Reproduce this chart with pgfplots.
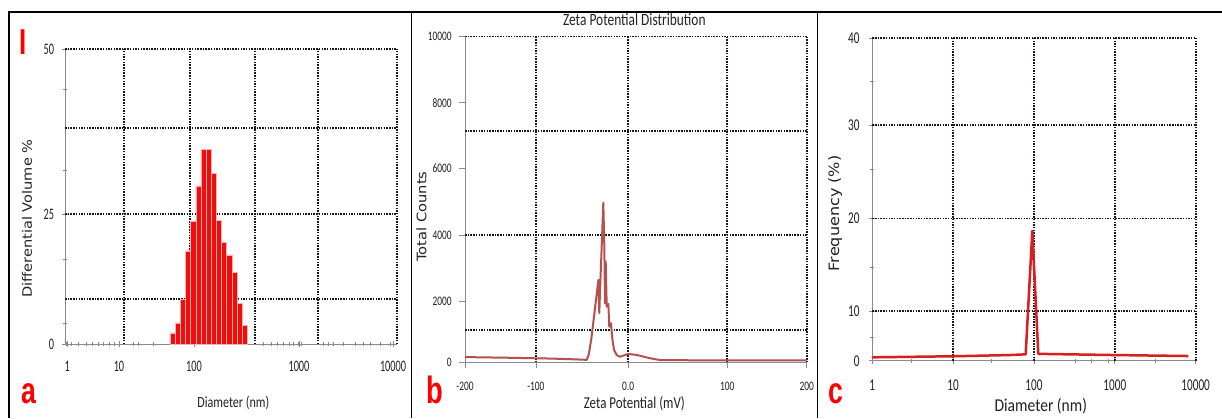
\documentclass[border=0pt]{standalone}
\usepackage{pgfplots}
\pgfplotsset{compat=1.18}
\usepackage{fontspec}
\setmainfont{Carlito}
\newfontfamily\tickA[FakeStretch=0.64]{Carlito}
\newfontfamily\tickB[FakeStretch=0.72]{Carlito}
\newfontfamily\tickC[FakeStretch=0.68]{Carlito}
\newfontfamily\labfont[FakeStretch=0.78]{Carlito}
\newfontfamily\labfontc[FakeStretch=0.86]{Carlito}
\newfontfamily\ylabfont[FakeStretch=1.12]{DejaVu Sans}
\newfontfamily\letterfont[FakeStretch=0.72]{Liberation Sans}

\definecolor{griddot}{HTML}{141826}
\definecolor{axgray}{HTML}{8A8A8A}
\definecolor{barred}{HTML}{F20D0D}
\definecolor{barsep}{HTML}{F7B3B3}
\definecolor{zetared}{HTML}{B5504C}
\definecolor{freqred}{HTML}{D91E1E}
\definecolor{txt}{HTML}{222222}

\pgfplotsset{
  panel/.style={
    scale only axis, anchor=south west,
    axis x line*=bottom, axis y line*=left,
    axis line style={axgray, line width=1pt},
    tick style={axgray, line width=0.8pt},
    major tick length=6pt, minor tick length=4pt, tick align=outside,
    major grid style={griddot, line width=1.6pt, dash pattern=on 1.5pt off 1.2pt},
    extra x tick style={grid=major, tick style={draw=none}},
    extra y tick style={grid=major, tick style={draw=none}},
    extra x tick labels={}, extra y tick labels={},
    scaled ticks=false,
    xticklabel style={inner sep=0pt, anchor=north, text=txt},
    yticklabel style={inner sep=0pt, anchor=east, text=txt},
    xlabel style={anchor=center, text=txt},
    ylabel style={anchor=center, text=txt},
  },
}

\begin{document}
\begin{tikzpicture}[x=1pt,y=1pt]
\path[use as bounding box, fill=white] (0,0) rectangle (1222,418);
\draw[line width=1.6pt] (9,0) -- (9,406) -- (1222,406);
\draw[line width=1.4pt] (411.7,0) -- (411.7,406);
\draw[line width=1.4pt] (817.3,0) -- (817.3,406);

% panel a: volume distribution
\begin{axis}[panel, at={(65pt,74pt)}, width=332pt, height=295pt,
  xmode=log, xmin=1, xmax=10000, ymin=0, ymax=50,
  tick align=center,
  xtick={1.06,4.47,35.8,659,8950}, xticklabels={1,10,100,1000,10000},
  minor xtick={1.05,1.2,1.45,1.83,2.16,2.52,2.89,3.39,3.92,6.65,7.64,11.6,245,309,361,427,500,564,647,711,1294,1487,1709,2253,3119,3930,4730,6240,8240},
  ytick={0,22,50}, yticklabels={0,25,50},
  minor ytick={3.56,14.4,29.5,43.2},
  extra x ticks={5.14,32.1,194.6,1117,10000},
  extra y ticks={7.6,22,36.6,50},
  xticklabel style={yshift=-13.5pt, font=\tickA\fontsize{16}{16}\selectfont},
  yticklabel style={xshift=-7.7pt, font=\tickA\fontsize{16}{16}\selectfont},
  xlabel={Diameter (nm)},
  xlabel style={at={(axis description cs:0.507,-0.198)}, font=\labfont\fontsize{15.5}{16}\selectfont},
  ylabel={Differential Volume \%},
  ylabel style={at={(axis description cs:-0.114,0.425)}, font=\ylabfont\fontsize{13}{14}\selectfont},
]
\addplot[ybar interval, fill=barred, draw=barsep, line width=0.5pt] coordinates {
  (18.41,1.9) (21.24,3.6) (24.51,7.6) (28.27,15.8) (32.62,20.8)
  (37.63,26.8) (43.41,33.0) (50.07,33.0) (57.77,28.9) (66.67,20.9)
  (76.90,17.2) (88.72,15.1) (102.3,12.1) (118.1,6.9) (136.2,3.2)
  (157.2,0)
};
\end{axis}

% panel b: zeta potential
\begin{axis}[panel, at={(465pt,55.7pt)}, width=341.7pt, height=325.8pt,
  xmin=-200, xmax=200, ymin=0, ymax=10000,
  minor tick num=0,
  xtick={-200,-117,-9,107,200}, xticklabels={-200,-100,0.0,100,200},
  ytick={0,1880,3910,5950,7970,10000}, yticklabels={0,2000,4000,6000,8000,10000},
  extra x ticks={-117,-9,107,200},
  extra y ticks={993,3907,7100,10000},
  xticklabel style={yshift=-14pt, font=\tickB\fontsize{13}{13}\selectfont},
  yticklabel style={xshift=-7.3pt, font=\tickB\fontsize{13}{13}\selectfont},
  title={Zeta Potential Distribution},
  title style={at={(axis description cs:0.4955,1.033)}, anchor=center, text=txt, font=\labfont\fontsize{17.2}{18}\selectfont},
  xlabel={Zeta Potential (mV)},
  xlabel style={at={(axis description cs:0.4955,-0.128)}, font=\labfont\fontsize{16.6}{17}\selectfont},
  ylabel={Total Counts},
  ylabel style={at={(axis description cs:-0.127,0.4475)}, font=\ylabfont\fontsize{13.1}{14}\selectfont},
]
\addplot[zetared, line width=2pt, line join=round] coordinates {
  (-200,160) (-150,140) (-100,115) (-70,90) (-57.5,75) (-55,250)
  (-52,750) (-49,1400) (-46.5,1950) (-43.8,2530) (-42.8,1510)
  (-41.9,2220) (-40,3550) (-38.1,4900) (-36.9,3550) (-36.1,1810)
  (-35.3,3090) (-34.1,1710) (-32.2,1790) (-31.1,1090) (-29.1,1200)
  (-27.6,740) (-25.6,380) (-22.4,225) (-18.6,170) (-8.8,255)
  (1,225) (16.6,125) (28.3,70) (75,60) (200,60)
};
\end{axis}

% panel c: size distribution
\begin{axis}[panel, at={(872.3pt,57.3pt)}, width=323.4pt, height=322.4pt,
  xmode=log, xmin=1, xmax=10000, ymin=0, ymax=40,
  tick align=center,
  xtick={1,10,100,1000,10000}, xticklabels={1,10,100,1000,10000},
  minor xtick={3.07,30,321,517,830,3140},
  ytick={0,6.17,17.66,29.24,40}, yticklabels={0,10,20,30,40},
  minor ytick={2.9,11.6,23.7,34.6},
  extra x ticks={10,100,1000,10000},
  extra y ticks={6.17,17.66,29.24,40},
  xticklabel style={yshift=-16pt, font=\tickC\fontsize{16.5}{16.5}\selectfont},
  yticklabel style={xshift=-9.6pt, font=\tickC\fontsize{16.5}{16.5}\selectfont},
  xlabel={Diameter (nm)},
  xlabel style={at={(axis description cs:0.521,-0.14)}, font=\labfontc\fontsize{18.1}{19}\selectfont},
  ylabel={Frequency (\%)},
  ylabel style={at={(axis description cs:-0.115,0.4566)}, font=\ylabfont\fontsize{14.3}{15}\selectfont},
]
\addplot[freqred, line width=2.5pt, line join=round] coordinates {
  (1,0.42) (10,0.55) (50,0.7) (78.9,0.79) (95.3,16.1) (113,0.85)
  (150,0.83) (1000,0.7) (8100,0.58)
};
\end{axis}

\node[anchor=base, text=red, font=\letterfont\bfseries\fontsize{36}{36}\selectfont] at (22.8,363) {I};
\node[anchor=base, text=red, font=\letterfont\bfseries\fontsize{37}{37}\selectfont] at (29.2,15) {a};
\node[anchor=base, text=red, font=\letterfont\bfseries\fontsize{38}{38}\selectfont] at (434.7,15) {b};
\node[anchor=base, text=red, font=\letterfont\bfseries\fontsize{37}{37}\selectfont] at (836.3,15) {c};
\end{tikzpicture}
\end{document}
